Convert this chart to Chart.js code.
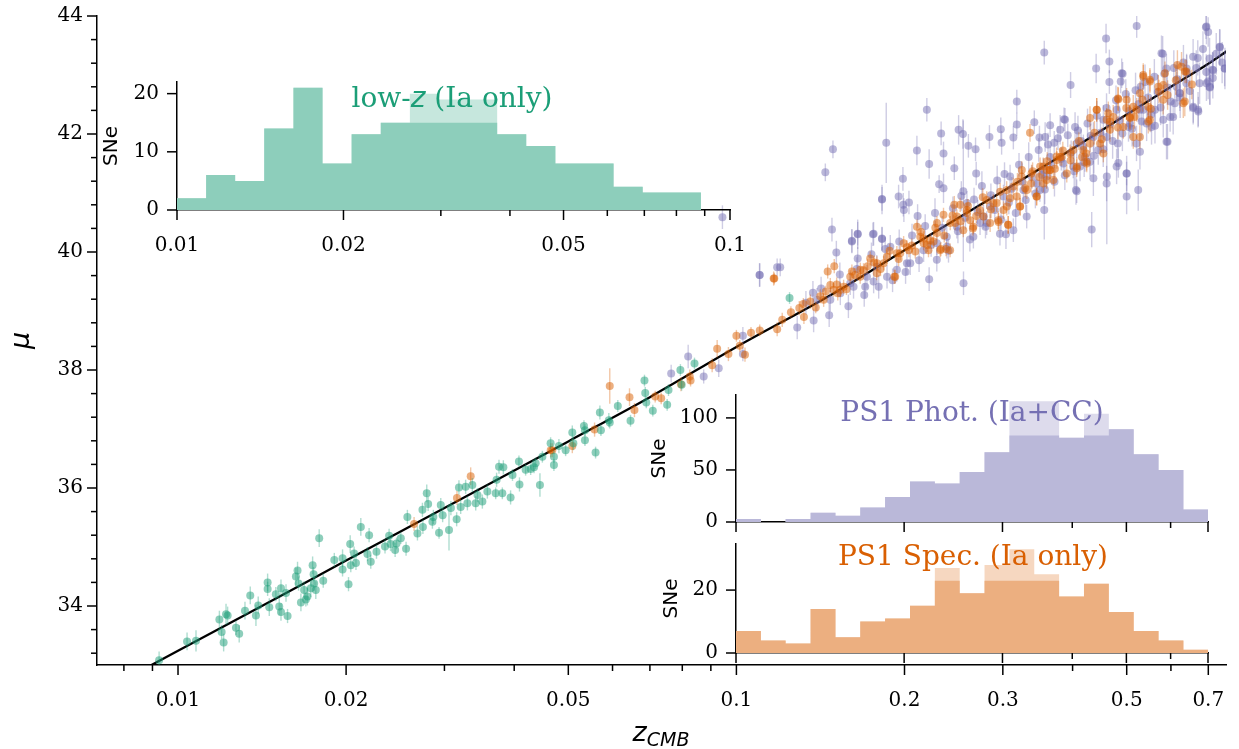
<!DOCTYPE html>
<html>
<head>
<meta charset="utf-8">
<script src="https://cdn.jsdelivr.net/npm/chart.js@4.4.1/dist/chart.umd.min.js"></script>
<style>
  html, body { margin: 0; padding: 0; background: #fff; }
  #wrap { position: relative; width: 1239px; height: 749px; }
  #wrap canvas { position: absolute; left: 0; top: 0; }
</style>
</head>
<body>
<div id="wrap">
  <canvas id="mainChart" width="1239" height="749"></canvas>
  <canvas id="lowzChart" width="1239" height="749"></canvas>
  <canvas id="photChart" width="1239" height="749"></canvas>
  <canvas id="specChart" width="1239" height="749"></canvas>
</div>
<script>
// ---- Hubble diagram points: [z_CMB, mu, error] ----
var lowzPoints = [
  [0.00925,33.08,0.15],[0.01038,33.40,0.15],[0.01077,33.41,0.18],[0.01186,33.77,0.15],[0.01197,33.56,0.12],
  [0.01207,33.38,0.15],[0.01219,33.86,0.18],[0.01227,33.84,0.15],[0.0127,33.63,0.12],[0.01287,33.53,0.15],
  [0.01318,33.92,0.15],[0.01347,34.18,0.15],[0.01379,33.84,0.18],[0.01392,34.01,0.15],[0.01447,34.40,0.15],
  [0.01447,34.29,0.12],[0.01457,33.98,0.15],[0.01497,34.20,0.12],[0.01518,33.99,0.15],[0.01529,34.30,0.15],
  [0.01529,33.90,0.15],[0.01561,34.22,0.15],[0.01571,33.83,0.12],[0.01626,34.50,0.15],[0.01637,34.60,0.15],
  [0.01644,34.38,0.12],[0.0166,34.06,0.15],[0.01682,34.27,0.15],[0.01694,34.11,0.12],[0.01705,34.16,0.15],
  [0.01729,34.30,0.15],[0.01742,34.69,0.15],[0.01749,34.54,0.12],[0.01753,34.38,0.12],[0.01765,34.27,0.15],
  [0.0179,35.15,0.15],[0.0182,34.43,0.12],[0.01905,34.78,0.12],[0.01971,34.81,0.15],[0.01971,34.62,0.12],
  [0.0202,34.37,0.12],[0.02034,35.05,0.15],[0.02039,34.69,0.12],[0.02067,34.89,0.12],[0.02083,34.73,0.12],
  [0.02125,35.34,0.15],[0.02184,34.88,0.12],[0.02199,35.20,0.12],[0.02214,34.75,0.12],[0.02267,34.92,0.12],
  [0.02348,35.01,0.12],[0.02388,35.19,0.12],[0.02402,35.05,0.12],[0.02448,34.95,0.12],[0.02462,35.06,0.1],
  [0.02506,35.15,0.1],[0.02561,34.97,0.12],[0.02575,35.51,0.12],[0.02684,35.23,0.12],[0.0274,35.63,0.12],
  [0.02745,35.34,0.12],[0.02789,35.91,0.15],[0.02805,35.73,0.12],[0.02855,35.43,0.12],[0.02866,35.51,0.12],
  [0.02934,35.24,0.1],[0.02955,35.71,0.12],[0.02978,35.54,0.12],[0.03057,35.29,0.35],[0.03081,35.66,0.12],
  [0.03155,35.47,0.12],[0.03185,36.01,0.12],[0.03208,35.68,0.12],[0.03274,36.02,0.12],[0.03298,35.74,0.12],
  [0.03366,36.05,0.12],[0.03413,35.74,0.12],[0.03438,35.88,0.12],[0.03508,35.77,0.12],[0.03581,35.94,0.12],
  [0.03706,35.91,0.1],[0.0372,36.14,0.12],[0.03757,36.36,0.12],[0.03809,35.91,0.1],[0.03825,36.35,0.12],
  [0.03941,35.84,0.12],[0.03972,36.22,0.1],[0.04079,36.45,0.1],[0.04088,36.06,0.12],[0.04193,36.31,0.1],
  [0.04281,36.32,0.1],[0.0437,36.42,0.1],[0.04448,36.05,0.2],[0.04648,36.76,0.1],[0.04341,36.35,0.1],
  [0.04493,36.53,0.1],[0.04712,36.53,0.1],[0.04712,36.39,0.1],[0.0481,36.71,0.12],[0.04945,36.64,0.1],
  [0.05083,36.94,0.12],[0.05105,36.76,0.12],[0.05333,37.05,0.1],[0.05355,36.98,0.1],[0.05355,36.81,0.1],
  [0.05595,36.60,0.1],[0.05695,37.28,0.12],[0.0572,36.98,0.1],[0.05909,37.15,0.12],[0.05932,37.11,0.1],
  [0.06132,37.39,0.1],[0.06462,37.14,0.1],[0.06845,37.82,0.1],[0.06866,37.61,0.1],[0.06896,37.45,0.1],
  [0.07084,37.31,0.1],[0.07516,37.41,0.1],[0.07558,37.66,0.1],[0.07938,38.0,0.1],[0.0798,37.75,0.1],
  [0.08413,38.11,0.1],[0.1245,39.22,0.1]
];
var specPoints = [
  [0.02647,35.39,0.12],[0.03159,35.83,0.12],[0.03343,36.20,0.15],[0.0465,36.64,0.12],[0.0468,36.64,0.12],
  [0.05083,36.71,0.12],[0.05572,36.99,0.12],[0.05932,37.73,0.3],[0.06435,37.54,0.15],[0.06568,37.32,0.12],
  [0.07154,37.55,0.1],[0.07333,37.52,0.1],[0.07955,37.76,0.12],[0.08251,37.89,0.12],[0.08278,37.82,0.1],
  [0.09048,38.08,0.12],[0.09237,38.36,0.15],[0.09676,38.27,0.12],[0.1,38.58,0.1],[0.1014,38.41,0.1],
  [0.1036,38.26,0.12],[0.1062,38.63,0.1],[0.1101,38.67,0.1],[0.1169,39.55,0.1],[0.1183,38.69,0.12],
  [0.1166,39.55,0.12],[0.1356,39.16,0.12],[0.1413,39.25,0.12],[0.1457,39.67,0.12],[0.1473,39.44,0.12],
  [0.1497,39.76,0.12],[0.1519,39.30,0.12],[0.1599,39.58,0.12],[0.1610,39.67,0.12],[0.1689,39.69,0.12],
  [0.1736,39.89,0.12],[0.1765,39.82,0.12],[0.1860,39.92,0.12],[0.1918,39.58,0.12],[0.1993,40.15,0.12],
  [0.2020,40.08,0.12],[0.2105,40.43,0.12],[0.2134,40.26,0.12],[0.2223,40.20,0.12],[0.2286,40.32,0.12],
  [0.2324,40.05,0.12],[0.2349,40.63,0.12],[0.2374,40.05,0.12],[0.2415,40.49,0.12],[0.2456,40.80,0.15],
  [0.2516,40.80,0.12],[0.2587,40.66,0.12],[0.2652,40.40,0.12],[0.2731,40.71,0.12],[0.2847,40.49,0.15],
  [0.2947,40.51,0.15],[0.3050,40.77,0.15],[0.3065,40.46,0.15],[0.3222,40.77,0.15],[0.3244,41.39,0.15],
  [0.3356,42.02,0.15],[0.3372,41.16,0.15],[0.3451,40.94,0.15],[0.3499,41.45,0.15],[0.3594,41.22,0.15],
  [0.3748,41.56,0.15],[0.3825,41.61,0.15],[0.3960,41.67,0.15],[0.4069,41.45,0.15],[0.4158,41.61,0.15],
  [0.4240,41.50,0.15],[0.4298,41.84,0.15],[0.4418,42.41,0.2],[0.4541,41.67,0.15],[0.4604,42.24,0.2],
  [0.4730,42.29,0.2],[0.4831,42.59,0.2],[0.4931,42.12,0.2],[0.5067,42.29,0.2],[0.5138,41.95,0.2],
  [0.5210,42.41,0.2],[0.5354,42.97,0.2],[0.5465,42.46,0.2],[0.5503,42.92,0.2],[0.5696,42.80,0.2],
  [0.5811,42.58,0.25],[0.5855,43.03,0.2],[0.6163,43.17,0.25],[0.6314,42.52,0.25],[0.6358,43.06,0.2],
  [0.5503,42.24,0.2],[0.5281,42.69,0.2],[0.4998,42.58,0.2],[0.4666,42.07,0.2],[0.4479,41.84,0.2],
  [0.4182,41.73,0.15],[0.3905,41.33,0.15],[0.3646,41.39,0.15],[0.3546,41.16,0.15],[0.3312,41.05,0.15],
  [0.3178,40.94,0.15],[0.3008,40.71,0.15],[0.2925,40.83,0.15],[0.2770,40.60,0.12],[0.2622,40.54,0.12],
  [0.2549,40.37,0.12],[0.2482,40.60,0.12],[0.2286,40.49,0.12],[0.2164,40.15,0.12],[0.2037,40.03,0.12],
  [0.1938,39.98,0.12],[0.1835,39.81,0.12],[0.1784,39.64,0.12],[0.1666,39.58,0.12],[0.1556,39.41,0.12],
  [0.1493,39.36,0.12],[0.1433,39.19,0.12],[0.1535,39.36,0.12],[0.1667,39.70,0.12],[0.1785,39.81,0.12],
  [0.1925,39.58,0.12],[0.1965,39.98,0.12],[0.2091,40.01,0.12],[0.2163,40.23,0.12],[0.2208,40.03,0.12],
  [0.2254,40.18,0.12],[0.2317,40.03,0.12],[0.2414,40.03,0.12],[0.2465,40.49,0.12],[0.2586,40.71,0.12],
  [0.2657,40.43,0.12],[0.2807,40.88,0.15],[0.2885,40.83,0.15],[0.2944,40.54,0.15],[0.3048,41.05,0.15],
  [0.3069,40.46,0.15],[0.3133,41.11,0.15],[0.3220,40.77,0.15],[0.3241,41.28,0.15],[0.3377,41.33,0.15],
  [0.3447,40.94,0.15],[0.3544,41.45,0.15],[0.3643,41.39,0.15],[0.3744,41.62,0.15],[0.4820,42.60,0.2],
  [0.5353,43.00,0.2],[0.5502,42.89,0.2],[0.5813,42.83,0.2],[0.6268,43.14,0.25],[0.6353,42.55,0.25],
  [0.6395,43.06,0.2],[0.4298,42.27,0.2],[0.4418,42.41,0.2],[0.4635,42.35,0.2],[0.5068,42.27,0.2],
  [0.5280,41.95,0.2],[0.5465,42.21,0.2],[0.5137,42.46,0.2],[0.4013,41.73,0.15],[0.3800,41.61,0.15],
  [0.3597,41.39,0.15],[0.3696,41.22,0.15],[0.4068,41.42,0.15],[0.4238,41.53,0.15],[0.1208,38.85,0.12],
  [0.1296,39.05,0.12],[0.1321,38.90,0.12],
  [0.1252,38.98,0.1],[0.1318,39.12,0.1],[0.1387,39.06,0.1],[0.1446,39.33,0.1],[0.1512,39.45,0.12],
  [0.1574,39.37,0.1],[0.1631,39.61,0.12],[0.1718,39.76,0.12],[0.1812,39.71,0.12],[0.1881,40.02,0.12],
  [0.1952,39.88,0.12],[0.2061,40.11,0.12],[0.2142,40.34,0.12],[0.2197,40.12,0.12],[0.2271,40.41,0.12],
  [0.2356,40.28,0.12],[0.2438,40.62,0.12],[0.2521,40.52,0.12],[0.2598,40.78,0.12],[0.2688,40.61,0.12],
  [0.2762,40.93,0.15],[0.2858,40.72,0.15],[0.2967,41.02,0.15],[0.3092,40.91,0.15],[0.3186,41.19,0.15],
  [0.3289,41.08,0.15],[0.3392,41.37,0.15],[0.3488,41.27,0.15],[0.3602,41.54,0.15],[0.3718,41.41,0.15],
  [0.3842,41.72,0.15],[0.3967,41.55,0.15],[0.4105,41.88,0.15],[0.4231,41.67,0.15],[0.4377,42.02,0.2],
  [0.4512,41.91,0.2],[0.4668,42.21,0.2],[0.4823,42.11,0.2],[0.4992,42.44,0.2],[0.5162,42.29,0.2],
  [0.5337,42.58,0.2],[0.5522,42.43,0.2],[0.5712,42.72,0.2],[0.5918,42.66,0.25],[0.6122,42.91,0.25],
  [0.6541,42.84,0.25]
];
var photPoints = [
  [0.07641,37.94,0.15],[0.08196,38.23,0.2],[0.08738,37.89,0.12],[0.09297,38.03,0.15],[0.0944,40.59,0.2],
  [0.1027,38.27,0.12],[0.1027,38.58,0.15],[0.1101,39.61,0.2],[0.1183,39.74,0.15],[0.1100,39.61,0.2],
  [0.1198,39.74,0.15],[0.1371,39.31,0.2],[0.1443,41.35,0.15],[0.1483,40.38,0.2],[0.1489,41.74,0.15],
  [0.1510,39.99,0.2],[0.1610,40.19,0.2],[0.1649,40.30,0.25],[0.1649,39.89,0.2],[0.1701,39.41,0.2],
  [0.1756,40.30,0.2],[0.1823,40.90,0.2],[0.1823,40.23,0.2],[0.1855,41.85,0.68],[0.1952,40.94,0.2],
  [0.1987,41.24,0.2],[0.1990,40.80,0.2],[0.1995,40.71,0.2],[0.2037,40.84,0.2],[0.2105,41.72,0.25],
  [0.2193,42.41,0.2],[0.2214,41.49,0.25],[0.2214,39.54,0.2],[0.2307,41.15,0.15],[0.2326,42.01,0.2],
  [0.2349,41.67,0.2],[0.2349,41.08,0.25],[0.2456,41.42,0.2],[0.2500,42.07,0.25],[0.2545,42.00,0.25],
  [0.2549,41.03,1.2],[0.2603,41.80,0.2],[0.2681,41.74,0.2],[0.2688,41.33,0.2],[0.2839,41.95,0.2],
  [0.2975,42.08,0.2],[0.2985,41.85,0.2],[0.3039,40.30,0.25],[0.3133,41.94,0.2],[0.3178,42.55,0.2],
  [0.3178,42.16,0.2],[0.3416,42.20,0.2],[0.3489,41.94,0.2],[0.3559,43.38,0.2],[0.3559,40.71,0.5],
  [0.3646,42.15,0.2],[0.3708,41.85,0.2],[0.3861,42.25,0.2],[0.3967,42.83,0.22],[0.4069,41.03,0.2],
  [0.4328,40.38,0.3],[0.4408,43.11,0.25],[0.4592,43.62,0.25],[0.4655,43.23,0.2],[0.4655,42.88,0.2],
  [0.4606,41.28,1.15],[0.4831,41.51,0.25],[0.4878,42.89,0.2],[0.4917,43.02,0.2],[0.4998,41.33,0.2],
  [0.5210,43.83,0.2],[0.5281,41.70,0.3],[0.5296,42.80,0.25],[0.5618,42.14,0.3],[0.5800,43.36,0.3],
  [0.5916,41.87,0.3],[0.6141,42.80,0.25],[0.6579,42.44,0.25],[0.6718,42.38,0.25],[0.6703,43.29,0.3],
  [0.6933,43.81,0.2],[0.6996,43.73,0.25],[0.7046,42.79,0.3],[0.7122,43.09,0.3],[0.7344,43.47,0.3],
  [0.7497,43.11,0.35],[0.6996,42.89,0.3],[0.5890,43.11,0.25],[0.5980,42.29,0.25],[0.6228,42.69,0.25],
  [0.6401,43.11,0.25],[0.5354,42.41,0.25],[0.5067,42.18,0.25],[0.4797,42.41,0.25],[0.4541,42.24,0.25],
  [0.4358,41.95,0.25],[0.4182,41.79,0.2],[0.4011,41.45,0.2],[0.3851,41.50,0.2],[0.3646,41.61,0.2],
  [0.3546,41.39,0.2],[0.3451,41.16,0.2],[0.3266,41.05,0.2],[0.3091,41.28,0.2],[0.3008,40.94,0.2],
  [0.2847,40.77,0.2],[0.2770,40.60,0.2],[0.2731,40.49,0.2],[0.2587,40.83,0.2],[0.2482,40.43,0.2],
  [0.2381,40.26,0.2],[0.2286,40.15,0.2],[0.2164,40.03,0.2],[0.2048,39.81,0.2],[0.1938,39.70,0.2],
  [0.1861,39.58,0.2],[0.1784,39.75,0.2],[0.1713,39.58,0.2],[0.1599,39.47,0.2],[0.1535,39.30,0.2],
  [0.1473,39.19,0.2],[0.1394,39.19,0.2],[0.1610,40.18,0.2],[0.1649,40.31,0.2],[0.1761,40.31,0.2],
  [0.1823,40.22,0.2],[0.1823,40.89,0.25],[0.2111,40.61,0.2],[0.2965,40.31,0.2],[0.2551,39.47,0.2],
  [0.2382,40.09,0.2],[0.2285,39.87,0.2],[0.2020,39.81,0.2],[0.1886,40.09,0.2],[0.1761,39.50,0.2],
  [0.1621,39.41,0.2],[0.3310,40.60,0.2],[0.3496,41.05,0.2],[0.3594,41.28,0.2],[0.3133,40.37,0.2],
  [0.2807,40.49,0.2],[0.2657,40.26,0.2],[0.3572,41.95,0.25],[0.3800,42.07,0.25],[0.3877,42.24,0.2],
  [0.4041,42.12,0.25],[0.4068,41.84,0.25],[0.4210,41.61,0.25],[0.4358,41.25,0.3],[0.4056,41.05,0.25],
  [0.4298,41.53,0.25],[0.4446,41.73,0.25],[0.4603,41.95,0.25],[0.4796,41.45,0.3],[0.4820,41.84,0.25],
  [0.4999,41.33,0.3],[0.5037,42.12,0.25],[0.5206,41.84,0.3],[0.5280,42.41,0.25],[0.5428,42.18,0.3],
  [0.5618,42.41,0.25],[0.5539,42.12,0.3],[0.5813,42.24,0.3],[0.5892,41.87,0.3],[0.6056,42.29,0.3],
  [0.6098,42.52,0.25],[0.6225,42.69,0.3],[0.6395,42.86,0.3],[0.6577,42.46,0.3],[0.6710,42.41,0.3],
  [0.6946,42.86,0.3],[0.7042,42.80,0.3],[0.7141,43.08,0.3],[0.7335,43.48,0.3],[0.7488,43.11,0.3],
  [0.6946,43.82,0.3],[0.5771,43.37,0.3],[0.4898,43.03,0.25],[0.4603,41.16,0.3],[0.5243,41.05,0.35],
  [0.4999,40.94,0.3],[0.4125,41.45,0.25],
  [0.2063,40.28,0.2],[0.2124,39.86,0.2],[0.2178,40.44,0.2],[0.2232,40.12,0.2],[0.2268,40.66,0.25],
  [0.2337,40.41,0.2],[0.2398,40.02,0.2],[0.2442,40.74,0.2],[0.2493,40.35,0.2],[0.2528,40.95,0.25],
  [0.2571,40.58,0.2],[0.2619,40.21,0.2],[0.2664,40.89,0.2],[0.2705,40.68,0.2],[0.2752,41.12,0.25],
  [0.2793,40.43,0.2],[0.2856,40.96,0.2],[0.2902,40.71,0.2],[0.2931,41.21,0.25],[0.2978,40.55,0.2],
  [0.3021,41.32,0.2],[0.3075,40.84,0.2],[0.3112,41.07,0.2],[0.3164,40.66,0.25],[0.3207,41.48,0.2],
  [0.3252,41.19,0.2],[0.3297,40.88,0.2],[0.3338,41.61,0.25],[0.3383,41.27,0.2],[0.3431,40.99,0.25],
  [0.3478,41.73,0.2],[0.3521,41.31,0.2],[0.3567,41.06,0.25],[0.3615,41.82,0.2],[0.3662,41.47,0.2],
  [0.3712,41.19,0.25],[0.3766,41.93,0.2],[0.3818,41.58,0.2],[0.3874,41.30,0.25],[0.3921,41.98,0.2],
  [0.3976,41.69,0.2],[0.4027,41.37,0.3],[0.4089,42.06,0.25],[0.4142,41.88,0.2],[0.4196,41.52,0.25],
  [0.4254,42.18,0.25],[0.4311,41.97,0.2],[0.4367,41.63,0.3],[0.4422,42.31,0.25],[0.4487,42.02,0.25],
  [0.4539,41.74,0.3],[0.4601,42.44,0.25],[0.4662,42.16,0.25],[0.4718,41.88,0.3],[0.4784,42.57,0.25],
  [0.4852,42.23,0.25],[0.4912,42.01,0.3],[0.4981,42.68,0.25],[0.5043,42.39,0.3],[0.5112,42.09,0.3],
  [0.5186,42.74,0.3],[0.5251,42.51,0.3],[0.5318,42.21,0.3],[0.5392,42.88,0.3],[0.5463,42.62,0.3],
  [0.5527,42.33,0.3],[0.5604,42.97,0.3],[0.5682,42.71,0.3],[0.5751,42.45,0.3],[0.5837,43.02,0.3],
  [0.5912,42.79,0.3],[0.5994,42.55,0.3],[0.6072,43.12,0.3],[0.6153,42.93,0.3],[0.6234,42.62,0.35],
  [0.6318,43.21,0.3],[0.6402,43.04,0.3],[0.6488,42.73,0.35],[0.6575,43.31,0.3],[0.6662,43.12,0.3],
  [0.6754,42.86,0.35],[0.6848,43.44,0.3],[0.6941,43.05,0.3],[0.7037,43.28,0.35],[0.7132,42.95,0.35],
  [0.7233,43.36,0.35],[0.7411,43.21,0.35],[0.1466,38.93,0.2],[0.1532,39.62,0.2],[0.1587,39.08,0.2],
  [0.1643,39.71,0.2],[0.1694,39.27,0.2],[0.1745,39.96,0.2],[0.1798,39.41,0.2],[0.1847,40.05,0.2],
  [0.1904,39.52,0.2],[0.1957,40.18,0.2],[0.2009,39.66,0.2],[0.1285,38.72,0.2],[0.1332,39.14,0.2],
  [0.1375,38.84,0.2],[0.1418,39.38,0.2]
];

// model curve
var modelZ  = [0.008, 0.01, 0.015, 0.02, 0.03, 0.05, 0.07, 0.1, 0.15, 0.2, 0.3, 0.4, 0.5, 0.6, 0.7, 0.76];
var modelMu = [32.75, 33.24, 34.13, 34.77, 35.66, 36.79, 37.54, 38.39, 39.31, 40.03, 41.03, 41.75, 42.33, 42.80, 43.19, 43.42];

// ---- histograms (log bins) ----
var lowzEdges = [0.01, 0.01129, 0.01274, 0.01438, 0.01624, 0.01833, 0.02069, 0.02336, 0.02637, 0.02976,
                 0.0336, 0.03793, 0.04281, 0.04833, 0.05456, 0.06158, 0.06952, 0.07848, 0.08859, 0.1];
var lowzAll = [2, 6, 5, 14, 21, 8, 13, 15, 20, 19, 19, 13, 11, 8, 8, 4, 3, 3, 0];
var lowzIa  = [2, 6, 5, 14, 21, 8, 13, 15, 15, 15, 15, 13, 11, 8, 8, 4, 3, 3, 0];

var ps1Edges = [0.1, 0.1108, 0.1227, 0.136, 0.1507, 0.1669, 0.1849, 0.2049, 0.227, 0.2515,
                0.2786, 0.3087, 0.342, 0.3789, 0.4198, 0.4651, 0.5153, 0.5709, 0.6325, 0.7];
var photAll = [3, 0, 3, 9, 6, 14, 24, 39, 37, 48, 67, 116, 116, 81, 104, 89, 65, 50, 12];
var photSel = [3, 0, 3, 9, 6, 14, 24, 39, 37, 48, 67, 83, 83, 81, 83, 89, 65, 50, 12];
var specAll = [7, 4, 3, 14, 5, 10, 11, 15, 27, 19, 28, 33, 25, 18, 22, 13, 7, 4, 1];
var specSel = [7, 4, 3, 14, 5, 10, 11, 15, 23, 19, 23, 23, 23, 18, 22, 13, 7, 4, 1];

// ---- ticks ----
var xMajorMain = [0.01, 0.02, 0.05, 0.1, 0.2, 0.3, 0.5, 0.7];
var xMajorLabels = ['0.01', '0.02', '0.05', '0.1', '0.2', '0.3', '0.5', '0.7'];
var xMinorMain = [0.008, 0.009, 0.03, 0.04, 0.06, 0.07, 0.08, 0.09, 0.4, 0.6];
var yMajorMain = [34, 36, 38, 40, 42, 44];
var yMinorMain = [33.2, 33.6, 34.4, 34.8, 35.2, 35.6, 36.4, 36.8, 37.2, 37.6, 38.4, 38.8,
                  39.2, 39.6, 40.4, 40.8, 41.2, 41.6, 42.4, 42.8, 43.2, 43.6];
var lowzXMajor = [0.01, 0.02, 0.05, 0.1];
var lowzXLabels = ['0.01', '0.02', '0.05', '0.1'];
var lowzXMinor = [0.03, 0.04, 0.06, 0.07, 0.08, 0.09];
var ps1XMajor = [0.1, 0.2, 0.3, 0.5, 0.7];
var ps1XMinor = [0.4, 0.6];
var lowzYTicks = [0, 10, 20];
var photYTicks = [0, 50, 100];
var specYTicks = [0, 20];

var GREEN = '27,158,119', PURPLE = '117,112,179', ORANGE = '217,95,2';
var SERIF = "'DejaVu Serif', serif";
var SANS = "'DejaVu Sans', sans-serif";

// tick marks drawn through the chart's scales (long majors, short minors)
var tickMarks = {
  id: 'tickMarks',
  afterDraw: function (chart, args, opts) {
    var ctx = chart.ctx;
    ctx.save();
    ctx.strokeStyle = '#000';
    ctx.lineWidth = 1.5;
    (opts.marks || []).forEach(function (m) {
      var scale = chart.scales[m.axis];
      m.values.forEach(function (v) {
        var p = scale.getPixelForValue(v);
        ctx.beginPath();
        if (m.axis === 'x') {
          ctx.moveTo(p, scale.top);
          ctx.lineTo(p, scale.top + m.len);
        } else {
          ctx.moveTo(scale.right, p);
          ctx.lineTo(scale.right - m.len, p);
        }
        ctx.stroke();
      });
    });
    ctx.restore();
  }
};

// vertical error bars drawn just before each scatter dataset
var errorBars = {
  id: 'errorBars',
  beforeDatasetDraw: function (chart, args) {
    var ds = chart.data.datasets[args.index];
    if (!ds.errors) return;
    var ctx = chart.ctx, xs = chart.scales.x, ys = chart.scales.y, a = chart.chartArea;
    ctx.save();
    ctx.beginPath();
    ctx.rect(a.left, a.top, a.right - a.left, a.bottom - a.top);
    ctx.clip();
    ctx.strokeStyle = ds.errorColor;
    ctx.lineWidth = 1.4;
    ds.data.forEach(function (pt, i) {
      var x = xs.getPixelForValue(pt.x);
      ctx.beginPath();
      ctx.moveTo(x, ys.getPixelForValue(pt.y - ds.errors[i]));
      ctx.lineTo(x, ys.getPixelForValue(pt.y + ds.errors[i]));
      ctx.stroke();
    });
    ctx.restore();
  }
};

// free text (mixed fonts, e.g. italic z)
var textLabels = {
  id: 'textLabels',
  afterDraw: function (chart, args, opts) {
    var ctx = chart.ctx;
    (opts.items || []).forEach(function (item) {
      ctx.save();
      ctx.fillStyle = item.color;
      ctx.textBaseline = 'alphabetic';
      var total = 0;
      item.parts.forEach(function (p) { ctx.font = p.font; total += ctx.measureText(p.text).width; });
      var x = item.x - total / 2;
      item.parts.forEach(function (p) {
        ctx.font = p.font;
        ctx.fillText(p.text, x, item.y + (p.dy || 0));
        x += ctx.measureText(p.text).width;
      });
      ctx.restore();
    });
  }
};

Chart.register(tickMarks, errorBars, textLabels);

function toXY(points) {
  return points.map(function (p) { return { x: p[0], y: p[1] }; });
}
function toErr(points) {
  return points.map(function (p) { return p[2]; });
}
function stepData(edges, counts) {
  var pts = counts.map(function (c, i) { return { x: edges[i], y: c }; });
  pts.push({ x: edges[edges.length - 1], y: counts[counts.length - 1] });
  return pts;
}
function setTicks(values) {
  return function (scale) {
    scale.ticks = values.map(function (v) { return { value: v }; });
  };
}
// fixed axis box size, no extra label overflow padding
function fixSize(prop, size) {
  return function (s) {
    s[prop] = size;
    s.paddingLeft = 0; s.paddingRight = 0; s.paddingTop = 0; s.paddingBottom = 0;
  };
}

var tickFont = { family: SERIF, size: 20 };

// ---------------- main Hubble diagram ----------------
new Chart(document.getElementById('mainChart'), {
  type: 'scatter',
  data: {
    datasets: [
      {
        type: 'line',
        data: modelZ.map(function (z, i) { return { x: z, y: modelMu[i] }; }),
        borderColor: '#000',
        borderWidth: 2.3,
        pointRadius: 0,
        cubicInterpolationMode: 'monotone',
        order: 4
      },
      {
        data: toXY(photPoints), errors: toErr(photPoints), errorColor: 'rgba(' + PURPLE + ',0.35)',
        backgroundColor: 'rgba(' + PURPLE + ',0.5)', borderWidth: 0, pointRadius: 4, order: 3
      },
      {
        data: toXY(specPoints), errors: toErr(specPoints), errorColor: 'rgba(' + ORANGE + ',0.35)',
        backgroundColor: 'rgba(' + ORANGE + ',0.5)', borderWidth: 0, pointRadius: 4, order: 2
      },
      {
        data: toXY(lowzPoints), errors: toErr(lowzPoints), errorColor: 'rgba(' + GREEN + ',0.35)',
        backgroundColor: 'rgba(' + GREEN + ',0.5)', borderWidth: 0, pointRadius: 4, order: 1
      }
    ]
  },
  options: {
    responsive: false,
    animation: false,
    devicePixelRatio: 1,
    layout: { padding: { left: 0, right: 13, top: 16, bottom: 0 } },
    plugins: {
      legend: { display: false },
      tooltip: { enabled: false },
      tickMarks: {
        marks: [
          { axis: 'x', values: xMajorMain, len: 10 },
          { axis: 'x', values: xMinorMain, len: 6 },
          { axis: 'y', values: yMajorMain, len: 10 },
          { axis: 'y', values: yMinorMain, len: 6 }
        ]
      },
      textLabels: {
        items: [{
          x: 661, y: 741, color: '#000',
          parts: [
            { text: 'z', font: 'italic 27px ' + SANS },
            { text: 'CMB', font: 'italic 19px ' + SANS, dy: 5 }
          ]
        }]
      }
    },
    scales: {
      x: {
        type: 'logarithmic',
        min: 0.00716,
        max: 0.753,
        border: { color: '#000', width: 1.5 },
        grid: { display: false, drawTicks: false },
        afterBuildTicks: setTicks(xMajorMain),
        afterFit: fixSize('height', 84),
        ticks: {
          autoSkip: false, maxRotation: 0, minRotation: 0, padding: 24,
          color: '#000', font: tickFont,
          callback: function (v, i) { return xMajorLabels[i]; }
        }
      },
      y: {
        type: 'linear',
        min: 33,
        max: 44,
        border: { color: '#000', width: 1.5 },
        grid: { display: false, drawTicks: false },
        afterBuildTicks: setTicks(yMajorMain),
        afterFit: fixSize('width', 97),
        ticks: {
          padding: 14, color: '#000', font: tickFont,
          callback: function (v) { return String(v); }
        },
        title: {
          display: true, text: 'μ', color: '#000',
          font: { family: SANS, style: 'italic', size: 27 },
          padding: { top: 6, bottom: 0 }
        }
      }
    }
  }
});

// ---------------- inset histograms ----------------
function insetChart(id, cfg) {
  return new Chart(document.getElementById(id), {
    type: 'line',
    data: {
      datasets: [
        {
          data: stepData(cfg.edges, cfg.all), stepped: true, fill: 'origin',
          backgroundColor: cfg.light, borderWidth: 0, pointRadius: 0, order: 2
        },
        {
          data: stepData(cfg.edges, cfg.sel), stepped: true, fill: 'origin',
          backgroundColor: cfg.dark, borderWidth: 0, pointRadius: 0, order: 1
        }
      ]
    },
    options: {
      responsive: false,
      animation: false,
      devicePixelRatio: 1,
      layout: { padding: cfg.padding },
      plugins: {
        legend: { display: false },
        tooltip: { enabled: false },
        tickMarks: {
          marks: [
            { axis: 'x', values: cfg.xMajor, len: 10 },
            { axis: 'x', values: cfg.xMinor, len: 6 },
            { axis: 'y', values: cfg.yTicks, len: 10 }
          ]
        },
        textLabels: { items: [cfg.title] }
      },
      scales: {
        x: {
          type: 'logarithmic',
          min: cfg.xMin, max: cfg.xMax,
          border: { color: '#000', width: 1.5 },
          grid: { display: false, drawTicks: false },
          afterBuildTicks: setTicks(cfg.xMajor),
          afterFit: fixSize('height', cfg.xHeight),
          ticks: {
            display: !!cfg.xLabels, autoSkip: false, maxRotation: 0, minRotation: 0, padding: 24,
            color: '#000', font: tickFont,
            callback: function (v, i) { return cfg.xLabels ? cfg.xLabels[i] : ''; }
          }
        },
        y: {
          type: 'linear',
          min: 0, max: cfg.yMax,
          border: { color: '#000', width: 1.5 },
          grid: { display: false, drawTicks: false },
          afterBuildTicks: setTicks(cfg.yTicks),
          afterFit: fixSize('width', cfg.yWidth),
          ticks: {
            padding: 18, color: '#000', font: tickFont,
            callback: function (v) { return String(v); }
          },
          title: {
            display: true, text: 'SNe', color: '#000',
            font: { family: SANS, size: 20 },
            padding: { top: cfg.titlePad, bottom: 0 }
          }
        }
      }
    }
  });
}

insetChart('lowzChart', {
  edges: lowzEdges, all: lowzAll, sel: lowzIa,
  light: '#c6e7dd', dark: '#8dcebb',
  xMin: 0.01, xMax: 0.1, yMax: 22,
  xMajor: lowzXMajor, xMinor: lowzXMinor, xLabels: lowzXLabels, yTicks: lowzYTicks,
  padding: { left: 100, right: 509, top: 82, bottom: 494 },
  yWidth: 77, xHeight: 45, titlePad: 0,
  title: {
    x: 452, y: 107, color: 'rgb(' + GREEN + ')',
    parts: [
      { text: 'low-', font: '28px ' + SERIF },
      { text: 'z', font: 'italic 28px ' + SANS },
      { text: ' (Ia only)', font: '28px ' + SERIF }
    ]
  }
});

insetChart('photChart', {
  edges: ps1Edges, all: photAll, sel: photSel,
  light: '#dddbec', dark: '#bab8d9',
  xMin: 0.1, xMax: 0.7, yMax: 122,
  xMajor: ps1XMajor, xMinor: ps1XMinor, xLabels: null, yTicks: photYTicks,
  padding: { left: 647, right: 31, top: 395, bottom: 207 },
  yWidth: 89, xHeight: 20, titlePad: 1,
  title: {
    x: 972, y: 421, color: 'rgb(' + PURPLE + ')',
    parts: [{ text: 'PS1 Phot. (Ia+CC)', font: '28px ' + SERIF }]
  }
});

insetChart('specChart', {
  edges: ps1Edges, all: specAll, sel: specSel,
  light: '#f6d7c0', dark: '#ecaf80',
  xMin: 0.1, xMax: 0.7, yMax: 34.65,
  xMajor: ps1XMajor, xMinor: ps1XMinor, xLabels: null, yTicks: specYTicks,
  padding: { left: 647, right: 31, top: 544, bottom: 76 },
  yWidth: 89, xHeight: 20, titlePad: 13,
  title: {
    x: 973, y: 565, color: 'rgb(' + ORANGE + ')',
    parts: [{ text: 'PS1 Spec. (Ia only)', font: '28px ' + SERIF }]
  }
});
</script>
</body>
</html>
